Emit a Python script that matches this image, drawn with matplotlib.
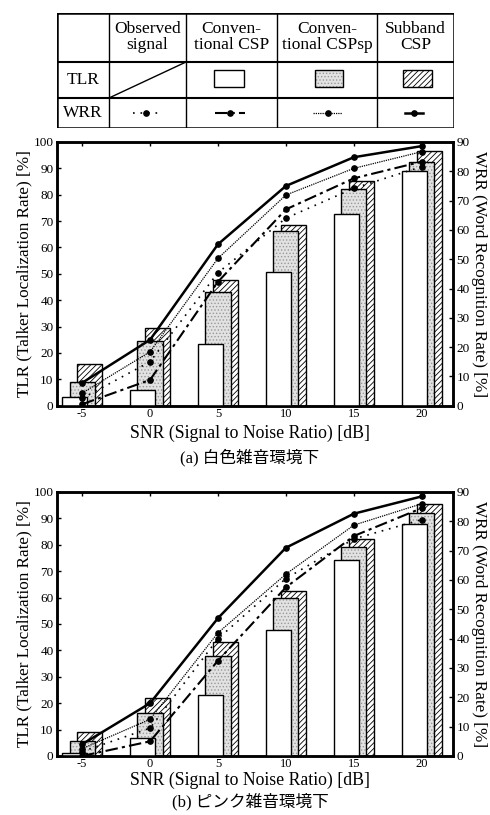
import matplotlib
matplotlib.use("Agg")
import matplotlib.pyplot as plt
from matplotlib.patches import Rectangle

plt.rcParams['font.family'] = ['Liberation Serif', 'Noto Sans CJK JP']
plt.rcParams['hatch.linewidth'] = 0.6
plt.rcParams['axes.unicode_minus'] = False

snr = [-5, 0, 5, 10, 15, 20]
snr_ticks = [-5, 0, 5, 10, 15, 20]

# TLR [%] (bars)
tlr_csp_a = [3.2, 5.8, 23.3, 50.6, 72.7, 88.9]
tlr_csppsp_a = [9.1, 24.6, 43.0, 66.3, 82.3, 92.4]
tlr_sub_a = [16.0, 29.6, 47.8, 68.6, 85.3, 96.5]

tlr_csp_b = [1.3, 6.9, 23.1, 47.7, 74.1, 88.0]
tlr_csppsp_b = [5.7, 16.4, 38.0, 60.0, 79.2, 92.0]
tlr_sub_b = [9.2, 21.8, 43.0, 62.5, 82.3, 95.3]

# WRR [%] (lines)
wrr_obs_a = [2.5, 15.0, 45.4, 64.0, 74.2, 81.6]
wrr_csp_a = [0.5, 8.8, 42.3, 67.0, 77.6, 83.3]
wrr_csppsp_a = [4.3, 18.4, 50.3, 71.9, 81.0, 86.7]
wrr_sub_a = [7.8, 22.5, 55.1, 75.0, 84.8, 88.6]

wrr_obs_b = [1.5, 9.5, 40.0, 60.5, 74.0, 80.6]
wrr_csp_b = [0.0, 5.0, 32.5, 57.5, 75.0, 84.5]
wrr_csppsp_b = [2.5, 12.5, 42.0, 62.0, 78.7, 86.0]
wrr_sub_b = [4.0, 18.0, 47.0, 71.0, 82.6, 88.5]

header = ['Observed\nsignal', 'Conven-\ntional CSP', 'Conven-\ntional CSPsp', 'Subband\nCSP']

# line styles: observed, conventional CSP, CSPsp, subband
line_styles = [
    dict(ls=(0, (1, 3.5)), lw=1.2),
    dict(ls=(0, (6, 2, 1.5, 2)), lw=1.5),
    dict(ls=(0, (1, 0.8)), lw=0.9),
    dict(ls='-', lw=1.8),
]

W = 1.85
OFF = 0.55
DOT_FACE = '#e2e2e2'
DOT_HATCH = '#999999'
FIG_H = 815


def dotted_bar(ax, x, h, w, **kw):
    ax.bar(x, h, w, color=DOT_FACE, edgecolor=DOT_HATCH, hatch='.....', linewidth=0, **kw)
    ax.bar(x, h, w, fill=False, edgecolor='k', linewidth=1.0, **kw)


def draw_panel(ax, tlr, wrr, label_y, caption, caption_y):
    csp, csppsp, sub = tlr
    xs = snr
    # back to front: subband, CSPsp, CSP
    ax.bar([x + OFF for x in xs], sub, W, color='white', edgecolor='k',
           hatch='//////', linewidth=1.0, zorder=1)
    dotted_bar(ax, xs, csppsp, W, zorder=2)
    ax.bar([x - OFF for x in xs], csp, W, color='white', edgecolor='k',
           linewidth=1.0, zorder=3)

    ax.set_xlim(-6.85, 22.3)
    ax.set_ylim(0, 100)
    ax.set_xticks(snr_ticks)
    ax.set_yticks(range(0, 101, 10))
    ax.tick_params(direction='in', length=3, width=1, labelsize=9.5,
                   top=True, pad=2.5)
    ax.tick_params(axis='x', labelsize=9, pad=1.5)
    ax.set_ylabel('TLR (Talker Localization Rate) [%]', fontsize=12.3, labelpad=1)
    for s in ax.spines.values():
        s.set_linewidth(1.8)

    ax2 = ax.twinx()
    ax2.set_ylim(0, 90)
    ax2.set_yticks(range(0, 91, 10))
    ax2.tick_params(direction='in', length=3, width=1, labelsize=9.5, pad=2.5)
    ax2.set_ylabel('WRR (Word Recognition Rate) [%]', fontsize=12.3,
                   rotation=-90, labelpad=12)
    for vals, st in zip(wrr, line_styles):
        ax2.plot(xs, vals, color='k', marker='o', ms=3.8, zorder=5, **st)
    for s in ax2.spines.values():
        s.set_linewidth(1.8)

    fig.text(250 / 490, 1 - label_y / FIG_H, 'SNR (Signal to Noise Ratio) [dB]',
             ha='center', va='center', fontsize=12.8)
    fig.text(250 / 490, 1 - caption_y / FIG_H, caption,
             ha='center', va='center', fontsize=12)


fig = plt.figure(figsize=(4.9, 8.15), dpi=100)

# legend table in pixel-like coordinates
tab = fig.add_axes([57 / 490, 1 - 128 / 815, (454 - 57) / 490, (128 - 13) / 815])
tab.set_xlim(57, 454)
tab.set_ylim(128, 13)
tab.axis('off')
cols = [57, 109, 186, 277, 377, 454]
tab.plot([57, 454, 454, 57, 57], [13, 13, 128, 128, 13], color='k', lw=1.8)
tab.plot([57, 454], [62, 62], color='k', lw=1.5)
tab.plot([57, 454], [98, 98], color='k', lw=1.5)
for c in cols[1:-1]:
    tab.plot([c, c], [13, 128], color='k', lw=1.0)
tab.plot([109, 186], [98, 62], color='k', lw=1.0)
for i, txt in enumerate(header):
    tab.text((cols[i + 1] + cols[i + 2]) / 2, 37, txt, ha='center', va='center',
             fontsize=12.5, linespacing=1.0)
tab.text(83, 80, 'TLR', ha='center', va='center', fontsize=12.5)
tab.text(83, 113, 'WRR', ha='center', va='center', fontsize=12.5)
tab.add_patch(Rectangle((214, 70), 30, 17, facecolor='white', edgecolor='k', lw=1.0))
tab.add_patch(Rectangle((315, 70), 28, 17, facecolor=DOT_FACE, edgecolor=DOT_HATCH,
                        hatch='.....', lw=0))
tab.add_patch(Rectangle((315, 70), 28, 17, fill=False, edgecolor='k', lw=1.0))
tab.add_patch(Rectangle((403, 70), 29, 17, facecolor='white', edgecolor='k',
                        hatch='//////', lw=1.0))
seg = [(133, 158), (215, 245), (313, 342), (405, 423)]
for (x0, x1), st in zip(seg, line_styles):
    tab.plot([x0, x1], [113, 113], color='k', **st)
    tab.plot([(x0 + x1) / 2], [113], 'o', color='k', ms=3.8)

ax_a = fig.add_axes([57 / 490, 1 - 405.7 / 815, 396 / 490, 263.7 / 815])
draw_panel(ax_a, (tlr_csp_a, tlr_csppsp_a, tlr_sub_a),
           (wrr_obs_a, wrr_csp_a, wrr_csppsp_a, wrr_sub_a),
           433, '(a) 白色雑音環境下', 458)

ax_b = fig.add_axes([57 / 490, 1 - 756 / 815, 396 / 490, 264 / 815])
draw_panel(ax_b, (tlr_csp_b, tlr_csppsp_b, tlr_sub_b),
           (wrr_obs_b, wrr_csp_b, wrr_csppsp_b, wrr_sub_b),
           780, '(b) ピンク雑音環境下', 802)

fig.savefig('out.png', dpi=100)
